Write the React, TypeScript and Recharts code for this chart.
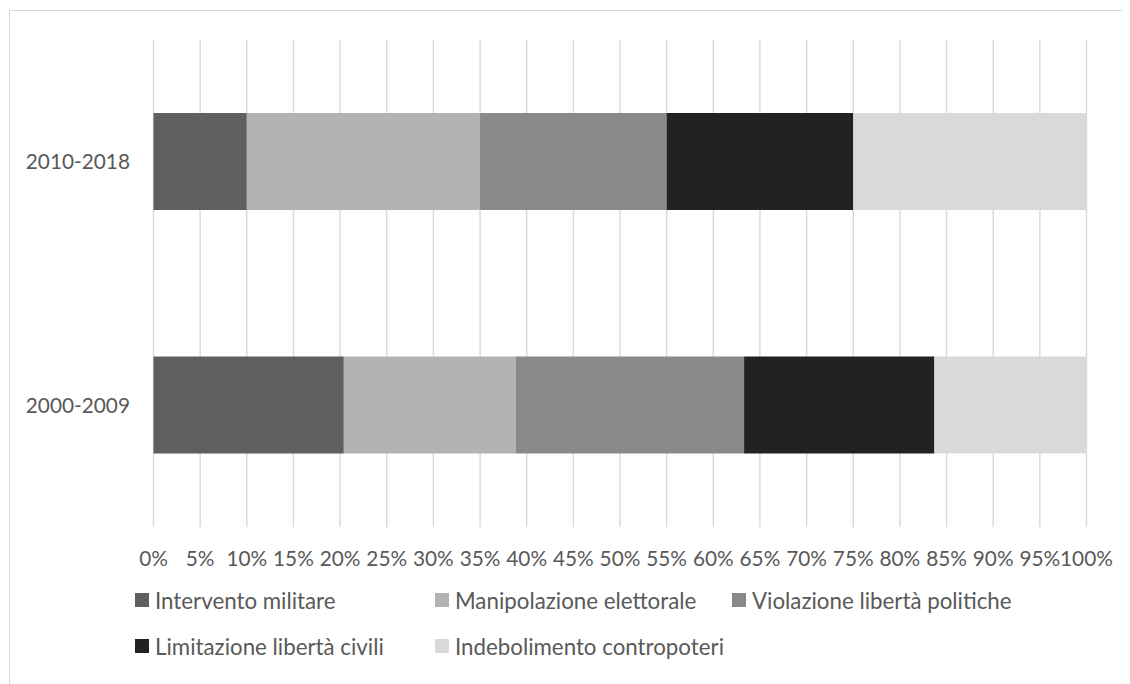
import React from "react"
import { BarChart, Bar, XAxis, YAxis, CartesianGrid, Legend } from "recharts"

const periods = ["2010-2018", "2000-2009"]
const interventoMilitare = [10, 20.4]
const manipolazioneElettorale = [25, 18.4]
const violazioneLibertaPolitiche = [20, 24.5]
const limitazioneLibertaCivili = [20, 20.4]
const indebolimentoContropoteri = [25, 16.3]
const xTicks = [0, 5, 10, 15, 20, 25, 30, 35, 40, 45, 50, 55, 60, 65, 70, 75, 80, 85, 90, 95, 100]

const series = [
  { key: "intervento", name: "Intervento militare", color: "#5f5f5f", values: interventoMilitare },
  { key: "manipolazione", name: "Manipolazione elettorale", color: "#b3b3b3", values: manipolazioneElettorale },
  { key: "violazione", name: "Violazione libertà politiche", color: "#898989", values: violazioneLibertaPolitiche },
  { key: "limitazione", name: "Limitazione libertà civili", color: "#222222", values: limitazioneLibertaCivili },
  { key: "indebolimento", name: "Indebolimento contropoteri", color: "#d9d9d9", values: indebolimentoContropoteri },
]

const data = periods.map((period, i) => {
  const row: Record<string, string | number> = { period }
  series.forEach((s) => (row[s.key] = s.values[i]))
  return row
})

const font = "Lato, 'Open Sans', sans-serif"
const textColor = "#595959"

function LegendBox() {
  return (
    <div
      style={{
        display: "grid",
        gridTemplateColumns: "300px 297px 300px",
        fontFamily: font,
        fontSize: 22.3,
        color: textColor,
      }}
    >
      {series.map((s) => (
        <div key={s.key} style={{ display: "flex", alignItems: "center", height: 46, whiteSpace: "nowrap" }}>
          <span style={{ width: 14, height: 14, background: s.color, marginRight: 6, flex: "none" }} />
          <span>{s.name}</span>
        </div>
      ))}
    </div>
  )
}

export default function App() {
  return (
    <div
      style={{
        position: "relative",
        width: 1120,
        height: 673,
        marginLeft: 1,
        marginTop: 2,
        borderLeft: "1px solid #d9d9d9",
        borderTop: "1px solid #d9d9d9",
      }}
    >
      <div style={{ position: "absolute", left: -10, top: -11 }}>
        <BarChart
          width={1120}
          height={676}
          data={data}
          layout="vertical"
          margin={{ top: 40, right: 33.5, bottom: 119, left: 13.5 }}
          style={{ fontFamily: font }}
        >
          <CartesianGrid horizontal={false} stroke="#d9d9d9" strokeWidth={1.4} />
          <XAxis
            type="number"
            domain={[0, 100]}
            ticks={xTicks}
            interval={0}
            height={30}
            axisLine={false}
            tickLine={false}
            tickMargin={18}
            tickFormatter={(v) => `${v}%`}
            tick={{ fill: textColor, fontSize: 20.8, fontFamily: font }}
          />
          <YAxis
            type="category"
            dataKey="period"
            width={140}
            axisLine={false}
            tickLine={false}
            tickMargin={17.5}
            tick={{ fill: textColor, fontSize: 20.8, fontFamily: font }}
          />
          <Legend
            verticalAlign="middle"
            align="center"
            content={() => <LegendBox />}
            wrapperStyle={{ top: 577, left: 135, width: 900 }}
          />
          {series.map((s) => (
            <Bar
              key={s.key}
              dataKey={s.key}
              name={s.name}
              stackId="a"
              fill={s.color}
              barSize={97}
              isAnimationActive={false}
            />
          ))}
        </BarChart>
      </div>
    </div>
  )
}
